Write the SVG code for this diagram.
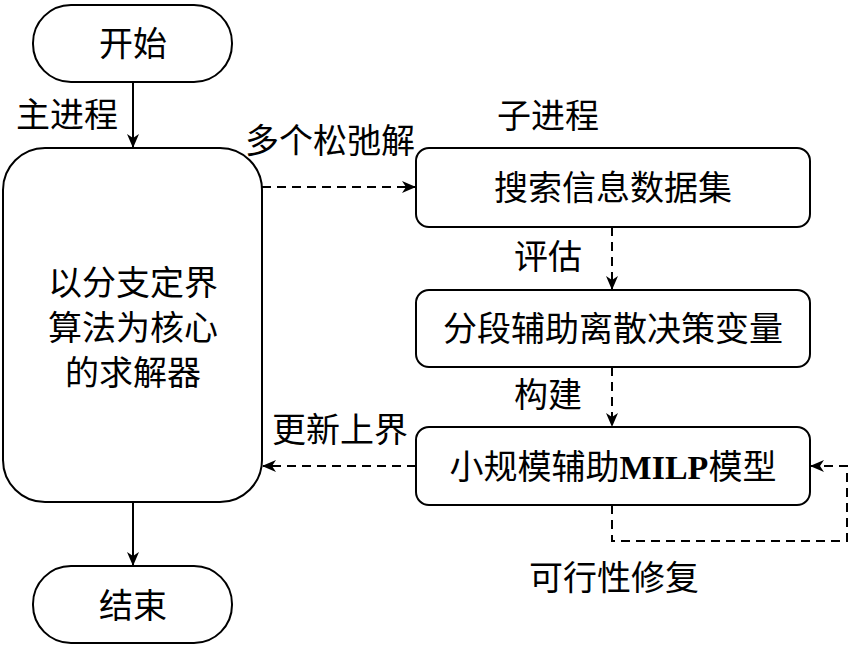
<svg xmlns="http://www.w3.org/2000/svg" width="850" height="649" viewBox="0 0 850 649">
<style>
.n{fill:#fff;stroke:#000;stroke-width:2}
.t{font-family:"Liberation Serif","Noto Sans CJK SC",serif;font-size:34px;fill:#000;text-anchor:middle}
.c{fill:none;stroke:#000;stroke-width:2}
.d{stroke-dasharray:9 6}
</style>
<defs>
<marker id="a" markerWidth="14" markerHeight="12" refX="13" refY="6" orient="auto" markerUnits="userSpaceOnUse">
<path d="M0,0 L14,6 L0,12 L4,6 Z" fill="#000"/>
</marker>
</defs>
<rect width="850" height="649" fill="#fff"/>
<g id="connectors">
<path class="c" d="M133,82 V147" marker-end="url(#a)"/>
<path class="c" d="M133,502 V565" marker-end="url(#a)"/>
<path class="c d" d="M262,187 H415" marker-end="url(#a)"/>
<path class="c d" d="M612,227 V289" marker-end="url(#a)"/>
<path class="c d" d="M612,367 V426" marker-end="url(#a)"/>
<path class="c d" d="M416,466 H263" marker-end="url(#a)"/>
<path class="c d" d="M612,505 V541 H847 V466 H811" marker-end="url(#a)"/>
</g>
<g id="start"><rect class="n" x="33" y="5" width="199" height="77" rx="38"/><text class="t" x="133" y="56">开始</text></g>
<g id="solver"><rect class="n" x="3" y="148" width="259" height="354" rx="42"/>
<text class="t" x="133" y="295">以分支定界</text><text class="t" x="133" y="340">算法为核心</text><text class="t" x="133" y="385">的求解器</text></g>
<g id="end"><rect class="n" x="33" y="566" width="199" height="77" rx="38"/><text class="t" x="133" y="618">结束</text></g>
<g id="dataset"><rect class="n" x="416" y="148" width="394" height="79" rx="13"/><text class="t" x="613" y="200">搜索信息数据集</text></g>
<g id="vars"><rect class="n" x="416" y="290" width="394" height="77" rx="13"/><text class="t" x="613" y="341">分段辅助离散决策变量</text></g>
<g id="milp"><rect class="n" x="416" y="427" width="394" height="78" rx="13"/><text class="t" x="613" y="479">小规模辅助<tspan font-weight="bold">MILP</tspan>模型</text></g>
<g id="labels">
<text class="t" x="67" y="127">主进程</text>
<text class="t" x="548" y="128">子进程</text>
<text class="t" x="330" y="153">多个松弛解</text>
<text class="t" x="548" y="269">评估</text>
<text class="t" x="548" y="407">构建</text>
<text class="t" x="340" y="442">更新上界</text>
<text class="t" x="614" y="590">可行性修复</text>
</g>
</svg>
